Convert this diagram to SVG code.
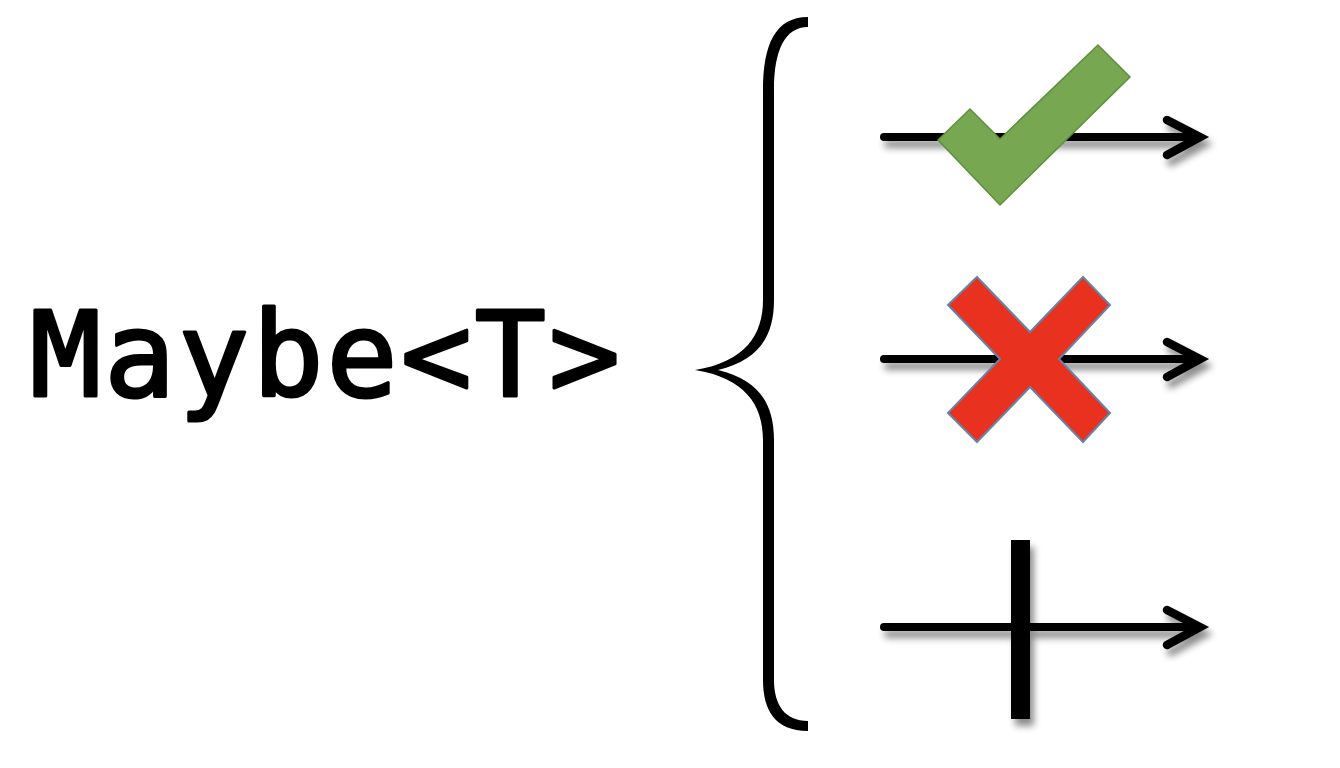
<svg xmlns="http://www.w3.org/2000/svg" width="1340" height="768" viewBox="0 0 1340 768">
  <defs>
    <filter id="shadow" x="-20%" y="-20%" width="140%" height="160%">
      <feGaussianBlur in="SourceAlpha" stdDeviation="3.5"/>
      <feOffset dx="4" dy="7" result="b"/>
      <feComponentTransfer><feFuncA type="linear" slope="0.45"/></feComponentTransfer>
      <feMerge><feMergeNode/><feMergeNode in="SourceGraphic"/></feMerge>
    </filter>
    <style>
      .label { font-family: "DejaVu Sans Mono", "Liberation Mono", monospace; font-size: 118px; font-weight: normal; fill: #000; stroke: #000; stroke-width: 3.2; stroke-linejoin: round; }
      .conn { stroke: #000; stroke-width: 8; fill: none; stroke-linecap: round; }
      .head { stroke: #000; stroke-width: 8.5; fill: none; stroke-linecap: round; stroke-linejoin: miter; }
    </style>
  </defs>
  <rect width="1340" height="768" fill="#ffffff"/>

  <g id="label-maybe">
    <text class="label" x="30" y="396" textLength="590" lengthAdjust="spacing">Maybe&lt;T&gt;</text>
  </g>

  <g id="brace">
    <path d="M808,17 C775,17 763,45 763,90 L763,300 C763,335 745,362 695,370 C745,378 763,405 763,440 L763,680 C763,710 775,731 808,731 L808,721 C785,721 774,705 774,680 L774,440 C774,405 760,380 718,370 C760,360 774,335 774,300 L774,90 C774,50 785,27 808,27 Z" fill="#000"/>
  </g>

  <g id="connectors" filter="url(#shadow)">
    <g id="arrow-some">
      <line class="conn" x1="884" y1="137" x2="1198" y2="137"/>
      <polyline class="head" points="1167,120 1200,137 1167,155"/>
    </g>
    <g id="arrow-none">
      <line class="conn" x1="884" y1="359" x2="1198" y2="359"/>
      <polyline class="head" points="1167,342 1200,359 1167,377"/>
    </g>
    <g id="arrow-end">
      <line class="conn" x1="884" y1="627" x2="1198" y2="627"/>
      <polyline class="head" points="1167,610 1200,627 1167,645"/>
      <rect x="1011" y="540" width="19" height="179" fill="#000"/>
    </g>
  </g>

  <g id="check">
    <polygon points="938,140 970,109 1000,139 1098,45 1130,77 1000,205" fill="#77A751" stroke="#5F8E3E" stroke-width="1.5" stroke-linejoin="miter"/>
  </g>

  <g id="cross">
    <polygon points="948,305 977,277 1030,332 1083,277 1110,305 1059,359 1110,413 1083,442 1030,387 977,442 948,413 1000,359" fill="#E8321F" stroke="#6584A8" stroke-width="2" stroke-linejoin="miter"/>
  </g>
</svg>
